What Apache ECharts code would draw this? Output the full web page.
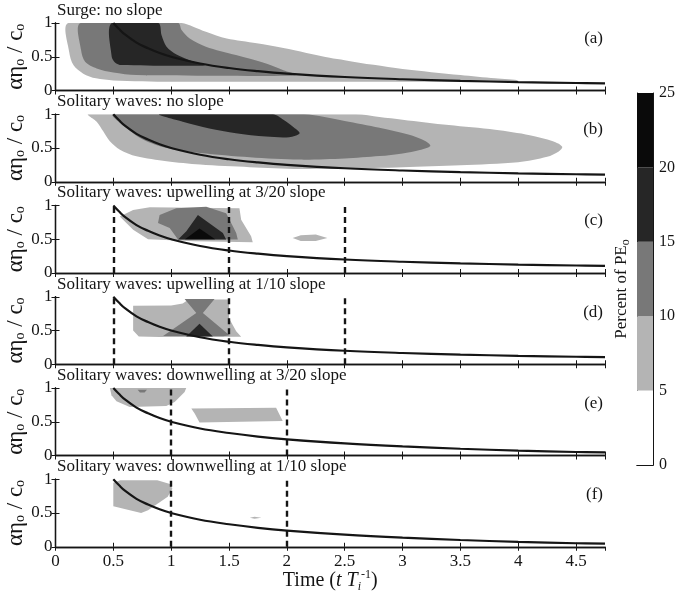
<!DOCTYPE html>
<html>
<head>
<meta charset="utf-8">
<script src="https://cdn.jsdelivr.net/npm/echarts@6/dist/echarts.min.js"></script>
<style>
  html, body { margin: 0; padding: 0; background: #ffffff; }
  #chart { width: 679px; height: 598px; }
</style>
</head>
<body>
<div id="chart"></div>
<script>
// ---- axis ticks and labels ----
const xTickLabels = ['0', '0.5', '1', '1.5', '2', '2.5', '3', '3.5', '4', '4.5'];
const yTickLabels = ['0', '0.5', '1'];
const cbLevels = [0, 5, 10, 15, 20, 25];
const cbTickLabels = ['0', '5', '10', '15', '20', '25'];

const panelTitles = [
  'Surge: no slope',
  'Solitary waves: no slope',
  'Solitary waves: upwelling at 3/20 slope',
  'Solitary waves: upwelling at 1/10 slope',
  'Solitary waves: downwelling at 3/20 slope',
  'Solitary waves: downwelling at 1/10 slope'
];
const panelTags = ['(a)', '(b)', '(c)', '(d)', '(e)', '(f)'];

// ---- breaking curve (time vs. amplitude) ----
const curveT = [0.5, 0.55, 0.6, 0.7, 0.8, 0.9, 1, 1.25, 1.5, 1.75, 2, 2.5, 3, 3.5, 4, 4.5, 4.75];
const curveA = [1, 0.91, 0.83, 0.71, 0.625, 0.555, 0.5, 0.4, 0.333, 0.286, 0.25, 0.2, 0.167, 0.143, 0.125, 0.111, 0.105];
const curveDownA = [1, 0.91, 0.83, 0.71, 0.625, 0.555, 0.5, 0.4, 0.333, 0.28, 0.24, 0.18, 0.135, 0.1, 0.072, 0.052, 0.045];

// ---- dashed time markers ----
const dashedUp320 = [0.5, 1.5, 2.5];
const dashedUp110 = [0.5, 1.5, 2.5];
const dashedDown320 = [1, 2];
const dashedDown110 = [1, 2];

// ---- contour regions, [time, amplitude] vertices ----
// (a) surge, no slope
const surgeLight = [[0.112, 1], [1.09, 1], [1.19, 0.945], [1.30, 0.87], [1.48, 0.77], [1.74, 0.70], [1.97, 0.63], [2.37, 0.485], [2.5, 0.45], [2.75, 0.38], [3.0, 0.32], [3.5, 0.23], [3.8, 0.18], [4.0, 0.15], [3.9, 0.135], [3.5, 0.13], [3.0, 0.13], [2.0, 0.13], [1.0, 0.13], [0.5, 0.15], [0.35, 0.18], [0.24, 0.25], [0.155, 0.376], [0.118, 0.574]];
const surgeMid = [[0.218, 1], [1.06, 1], [1.09, 0.896], [1.16, 0.77], [1.30, 0.65], [1.56, 0.525], [1.82, 0.40], [1.97, 0.30], [2.08, 0.235], [2.0, 0.218], [1.39, 0.218], [0.7, 0.228], [0.5, 0.267], [0.356, 0.327], [0.256, 0.426], [0.221, 0.6]];
const surgeDark = [[0.486, 1], [0.888, 1], [0.917, 0.82], [0.96, 0.65], [1.046, 0.535], [1.16, 0.45], [1.29, 0.376], [1.276, 0.366], [0.57, 0.376], [0.514, 0.416], [0.486, 0.5]];
// (b) solitary waves, no slope
const solLight = [[0.284, 1], [2.6, 1], [2.8, 0.96], [3.0, 0.92], [3.4, 0.84], [3.8, 0.77], [4.1, 0.69], [4.3, 0.6], [4.38, 0.52], [4.35, 0.45], [4.25, 0.37], [4.0, 0.29], [3.5, 0.245], [3.0, 0.215], [2.5, 0.195], [2.11, 0.19], [1.68, 0.216], [1.25, 0.255], [0.96, 0.304], [0.7, 0.377], [0.557, 0.475], [0.47, 0.6], [0.414, 0.745], [0.356, 0.89]];
const solMid = [[0.5, 1], [2.15, 1], [2.5, 0.9], [2.8, 0.8], [3.05, 0.7], [3.2, 0.6], [3.24, 0.53], [3.15, 0.47], [3.0, 0.42], [2.8, 0.38], [2.5, 0.345], [2.11, 0.328], [1.68, 0.363], [1.25, 0.426], [0.96, 0.5], [0.76, 0.623], [0.615, 0.794]];
const solDark = [[0.9, 1], [1.88, 1], [1.97, 0.92], [2.05, 0.82], [2.11, 0.72], [2.02, 0.66], [1.82, 0.67], [1.56, 0.72], [1.33, 0.79], [1.10, 0.89]];
// (c) upwelling at 3/20 slope
const up320Light = [[0.556, 0.837], [0.671, 0.934], [0.815, 0.973], [1.0, 0.97], [1.59, 0.96], [1.605, 0.79], [1.648, 0.667], [1.691, 0.545], [1.705, 0.457], [1.2, 0.47], [0.8, 0.5], [0.671, 0.642]];
const up320Mid = [[0.886, 0.74], [0.9, 0.861], [1.044, 0.959], [1.303, 0.983], [1.475, 0.886], [1.533, 0.691], [1.562, 0.594], [1.576, 0.496], [1.059, 0.496], [0.987, 0.667]];
const up320Dark = [[1.059, 0.496], [1.131, 0.618], [1.231, 0.861], [1.447, 0.594], [1.475, 0.496]];
const up320Black = [[1.12, 0.5], [1.245, 0.66], [1.38, 0.5]];
const up320Spot = [[2.05, 0.52], [2.12, 0.56], [2.25, 0.57], [2.35, 0.52], [2.25, 0.475], [2.12, 0.475]];
// (d) upwelling at 1/10 slope
const up110Light = [[0.671, 0.868], [1.0, 0.87], [1.1, 0.9], [1.15, 0.96], [1.5, 0.96], [1.5, 0.68], [1.562, 0.49], [1.605, 0.407], [0.9, 0.405], [0.72, 0.41], [0.671, 0.5]];
const up110Mid = [[1.116, 0.966], [1.375, 0.966], [1.274, 0.76], [1.504, 0.43], [1.45, 0.415], [0.93, 0.42], [1.217, 0.76]];
const up110Dark = [[1.13, 0.41], [1.245, 0.6], [1.36, 0.41]];
// (e) downwelling at 3/20 slope
const down320Light = [[0.47, 1], [1.13, 1], [1.116, 0.94], [1.03, 0.794], [0.958, 0.735], [0.642, 0.72], [0.527, 0.804], [0.484, 0.892]];
const down320Spot = [[0.71, 0.975], [0.79, 0.975], [0.77, 0.935], [0.73, 0.935]];
const down320Band = [[1.174, 0.696], [1.907, 0.706], [1.964, 0.51], [1.245, 0.49], [1.203, 0.623]];
// (f) downwelling at 1/10 slope
const down110Light = [[0.5, 0.95], [0.56, 0.985], [0.88, 0.985], [0.99, 0.93], [1.01, 0.86], [0.97, 0.74], [0.8, 0.54], [0.74, 0.5], [0.5, 0.6]];
const down110Spot = [[1.68, 0.43], [1.72, 0.445], [1.78, 0.43], [1.72, 0.415]];

// ---- styling ----
const SERIF = '"Liberation Serif", "DejaVu Serif", serif';
const INK = '#151515';
const levelColors = ['#ffffff', '#b4b4b4', '#787878', '#262626', '#0a0a0a'];
const X_MAX = 4.75;

// contour level index per region: 1 = 5-10, 2 = 10-15, 3 = 15-20, 4 = 20-25
const panels = [
  { regions: [[surgeLight, 1], [surgeMid, 2], [surgeDark, 3]], smooth: 0.3, curve: curveA, dashed: [] },
  { regions: [[solLight, 1], [solMid, 2], [solDark, 3]], smooth: 0.3, curve: curveA, dashed: [] },
  { regions: [[up320Light, 1], [up320Spot, 1], [up320Mid, 2], [up320Dark, 3], [up320Black, 4]], smooth: 0, curve: curveA, dashed: dashedUp320 },
  { regions: [[up110Light, 1], [up110Mid, 2], [up110Dark, 3]], smooth: 0, curve: curveA, dashed: dashedUp110 },
  { regions: [[down320Light, 1], [down320Band, 1], [down320Spot, 2]], smooth: 0, curve: curveDownA, dashed: dashedDown320 },
  { regions: [[down110Light, 1], [down110Spot, 1]], smooth: 0, curve: curveDownA, dashed: dashedDown110 }
];

const PLOT_LEFT = 55.5, PLOT_WIDTH = 549.5, PLOT_H = 67.5, FIRST_TOP = 23, STEP = 91.25;
const panelTop = i => FIRST_TOP + i * STEP;

const grids = [], xAxes = [], yAxes = [], series = [], titles = [];
const axisLineStyle = { show: true, lineStyle: { color: INK, width: 1.3 } };
const innerTick = { show: true, inside: true, length: 4, lineStyle: { color: INK, width: 1 } };

panels.forEach((p, i) => {
  const last = i === panels.length - 1;
  grids.push({ left: PLOT_LEFT, top: panelTop(i), width: PLOT_WIDTH, height: PLOT_H, outerBoundsMode: 'none' });
  const xBase = {
    gridIndex: i, type: 'value', min: 0, max: X_MAX, interval: 0.5,
    axisLine: axisLineStyle, axisTick: innerTick, splitLine: { show: false }
  };
  xAxes.push(Object.assign({}, xBase, {
    position: 'bottom',
    axisLabel: {
      show: last, showMaxLabel: false, margin: 6, color: INK, fontFamily: SERIF, fontSize: 17,
      formatter: v => xTickLabels[Math.round(v / 0.5)] ?? ''
    },
    name: last ? '{n|Time (}{i|t T}{sb|i}{sp|-1}{n|)}' : '',
    nameLocation: 'middle', nameGap: 22, nameMoveOverlap: false,
    nameTextStyle: {
      rich: {
        n: { fontFamily: SERIF, fontSize: 20, color: INK, lineHeight: 24 },
        i: { fontFamily: SERIF, fontSize: 20, fontStyle: 'italic', color: INK, lineHeight: 24 },
        sb: { fontFamily: SERIF, fontSize: 12, fontStyle: 'italic', color: INK, verticalAlign: 'bottom', lineHeight: 12 },
        sp: { fontFamily: SERIF, fontSize: 12, color: INK, verticalAlign: 'top', lineHeight: 12 }
      }
    }
  }));
  xAxes.push(Object.assign({}, xBase, { position: 'top', axisLabel: { show: false } }));

  const yBase = {
    gridIndex: i, type: 'value', min: 0, max: 1, interval: 0.5,
    axisLine: axisLineStyle, axisTick: innerTick, splitLine: { show: false }
  };
  yAxes.push(Object.assign({}, yBase, {
    position: 'left',
    axisLabel: {
      margin: 3, color: INK, fontFamily: SERIF, fontSize: 17,
      formatter: v => yTickLabels[Math.round(v / 0.5)] ?? ''
    },
    name: '{g|αη}{s|o}{g| / c}{s|o}',
    nameLocation: 'middle', nameRotate: 90, nameGap: 28, nameMoveOverlap: false,
    nameTextStyle: {
      rich: {
        g: { fontFamily: SERIF, fontSize: 23, color: INK, lineHeight: 24 },
        s: { fontFamily: SERIF, fontSize: 14, color: INK, verticalAlign: 'bottom', lineHeight: 14 }
      }
    }
  }));
  yAxes.push(Object.assign({}, yBase, { position: 'right', axisLabel: { show: false } }));

  // filled contour regions
  series.push({
    type: 'custom',
    xAxisIndex: 2 * i, yAxisIndex: 2 * i,
    clip: true, silent: true, z: 2,
    encode: { x: 0, y: 1 },
    data: p.regions.map((r, k) => [r[0][0][0], r[0][0][1], k]),
    renderItem: (params, api) => {
      const [pts, lvl] = p.regions[params.dataIndex];
      const lo = api.coord([0, 0]);
      const hi = api.coord([X_MAX, 1]);
      return {
        type: 'polygon',
        z2: lvl,
        shape: {
          points: pts.map(q => api.coord(q)),
          smooth: p.smooth,
          smoothConstraint: [[lo[0], hi[1]], [hi[0], lo[1]]]
        },
        style: { fill: levelColors[lvl], stroke: null }
      };
    }
  });

  // breaking curve and dashed time markers
  series.push({
    type: 'line',
    xAxisIndex: 2 * i, yAxisIndex: 2 * i,
    data: curveT.map((t, j) => [t, p.curve[j]]),
    smooth: 0.4, symbol: 'none', silent: true, z: 4,
    lineStyle: { color: INK, width: 2.2 },
    markLine: {
      silent: true, symbol: ['none', 'none'], label: { show: false },
      lineStyle: { color: INK, width: 2.4, type: [6, 4] },
      data: p.dashed.map(v => ({ xAxis: v }))
    }
  });

  titles.push({
    text: panelTitles[i], left: 57, top: panelTop(i) - 21, padding: 0,
    textStyle: { fontFamily: SERIF, fontSize: 17, fontWeight: 'normal', color: INK }
  });
  titles.push({
    text: panelTags[i], right: 76, top: panelTop(i) + 7, padding: 0,
    textStyle: { fontFamily: SERIF, fontSize: 17, fontWeight: 'normal', color: INK }
  });
});

// ---- colour bar ----
const CB = panels.length;
grids.push({ left: 637, top: 93, width: 16, height: 372, outerBoundsMode: 'none' });
const cbLine = { show: true, lineStyle: { color: INK, width: 1 } };
xAxes.push({ gridIndex: CB, type: 'category', data: [''], position: 'bottom', axisLine: cbLine, axisTick: { show: false }, axisLabel: { show: false } });
xAxes.push({ gridIndex: CB, type: 'category', data: [''], position: 'top', axisLine: cbLine, axisTick: { show: false }, axisLabel: { show: false } });
yAxes.push({
  gridIndex: CB, type: 'value', position: 'right', min: cbLevels[0], max: cbLevels[cbLevels.length - 1], interval: 5,
  axisLine: cbLine, axisTick: { show: false }, splitLine: { show: false },
  axisLabel: { margin: 6, color: INK, fontFamily: SERIF, fontSize: 16, formatter: v => cbTickLabels[Math.round(v / 5)] ?? '' }
});
yAxes.push({
  gridIndex: CB, type: 'value', position: 'left', min: cbLevels[0], max: cbLevels[cbLevels.length - 1], interval: 5,
  axisLine: cbLine, axisTick: { show: false }, splitLine: { show: false }, axisLabel: { show: false },
  name: '{t|Percent of PE}{s|o}', nameLocation: 'middle', nameRotate: 90, nameGap: 5, nameMoveOverlap: false,
  nameTextStyle: {
    padding: [0, 20, 0, 0],
    rich: {
      t: { fontFamily: SERIF, fontSize: 17, color: INK, lineHeight: 20 },
      s: { fontFamily: SERIF, fontSize: 12, color: INK, verticalAlign: 'bottom', lineHeight: 12 }
    }
  }
});
for (let k = 0; k < cbLevels.length - 1; k++) {
  series.push({
    type: 'bar', xAxisIndex: 2 * CB, yAxisIndex: 2 * CB, stack: 'cb', silent: true,
    barWidth: '100%', data: [cbLevels[k + 1] - cbLevels[k]],
    itemStyle: { color: levelColors[k] }
  });
}

const chart = echarts.init(document.getElementById('chart'), null, { renderer: 'canvas' });
chart.setOption({
  backgroundColor: '#ffffff',
  animation: false,
  title: titles,
  grid: grids,
  xAxis: xAxes,
  yAxis: yAxes,
  series: series
});
</script>
</body>
</html>
